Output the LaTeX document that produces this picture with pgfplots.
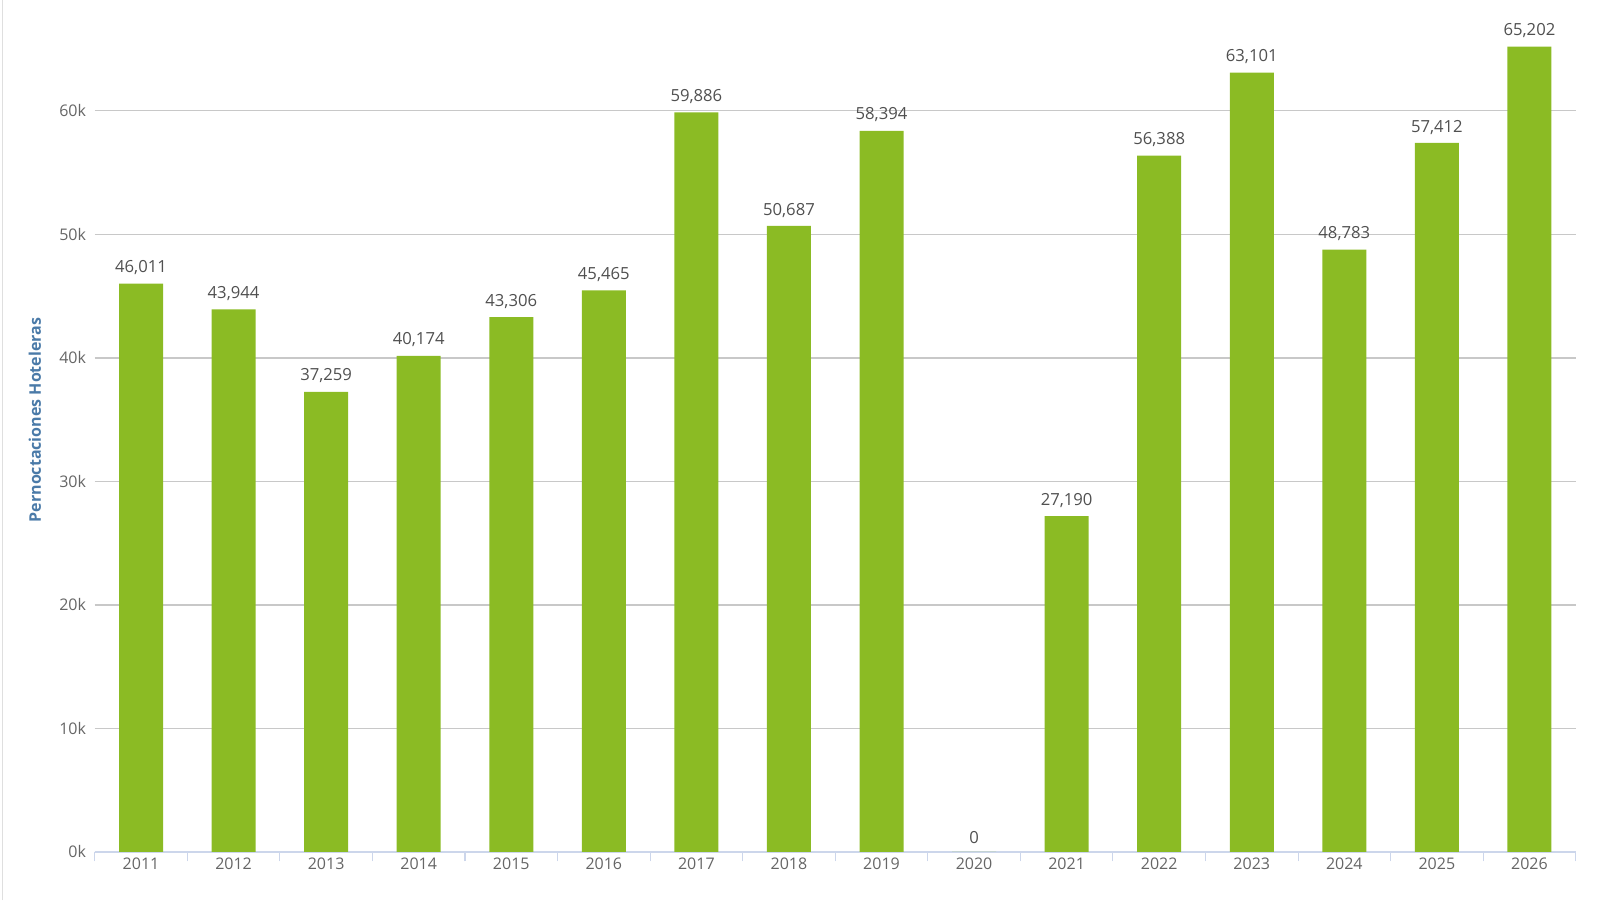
\documentclass[border=0pt]{standalone}
\usepackage{pgfplots}
\pgfplotsset{compat=1.18}
\usepackage{fontspec}
\setmainfont{Open Sans}

\definecolor{barcol}{RGB}{139,187,36}
\definecolor{gridcol}{RGB}{200,200,200}
\definecolor{axiscol}{RGB}{204,214,235}
\definecolor{ticktxt}{RGB}{102,102,102}
\definecolor{lbltxt}{RGB}{80,80,80}
\definecolor{titlecol}{RGB}{74,122,168}

\begin{document}
\begin{tikzpicture}[x=0.75pt,y=0.75pt]
% page = 1600 x 900 px, 1 px = 0.75pt
\draw[gray!25] (2,0) -- (2,900);

\begin{axis}[
    at={(105.75pt,36pt)}, anchor=origin,
    scale only axis,
    width=1110.75pt,
    height=648.4pt,
    ymin=0, ymax=70000,
    xmin=-0.5, xmax=15.5,
    axis x line*=bottom,
    axis y line*=left,
    y axis line style={draw=none},
    x axis line style={axiscol, line width=0.8pt},
    ytick={0,10000,20000,30000,40000,50000,60000},
    yticklabels={0k,10k,20k,30k,40k,50k,60k},
    scaled y ticks=false,
    xtick={0,...,15},
    xticklabels={2011,2012,2013,2014,2015,2016,2017,2018,2019,2020,2021,2022,2023,2024,2025,2026},
    minor xtick={-0.5,0.5,...,15.5},
    major tick length=0pt,
    minor tick length=7pt,
    tick align=outside,
    minor tick style={axiscol, line width=0.8pt},
    ytick style={draw=none},
    ymajorgrids,
    grid style={gridcol, line width=0.8pt},
    tick label style={font=\fontsize{12}{14}\selectfont, text=ticktxt},
    yticklabel style={xshift=-3pt},
    xticklabel style={yshift=-1pt},
    /pgf/number format/assume math mode=true,
    ybar,
    bar width=33pt,
    nodes near coords,
    nodes near coords style={font=\fontsize{12.5}{14}\selectfont, text=lbltxt, yshift=3pt,
        /pgf/number format/fixed, /pgf/number format/precision=0,
        /pgf/number format/1000 sep={,}, /pgf/number format/assume math mode=true},
    clip=false,
]
\addplot[fill=barcol, draw=none] coordinates {
    (0, 46011)
    (1, 43944)
    (2, 37259)
    (3, 40174)
    (4, 43306)
    (5, 45465)
    (6, 59886)
    (7, 50687)
    (8, 58394)
    (9, 0)
    (10, 27190)
    (11, 56388)
    (12, 63101)
    (13, 48783)
    (14, 57412)
    (15, 65202)
};
\end{axis}

\node[rotate=90, text=titlecol, font=\fontsize{12}{14}\selectfont\bfseries] at (35,480) {Pernoctaciones Hoteleras};
\pgfresetboundingbox
\path[use as bounding box] (0,0) rectangle (1600,900);
\end{tikzpicture}
\end{document}
